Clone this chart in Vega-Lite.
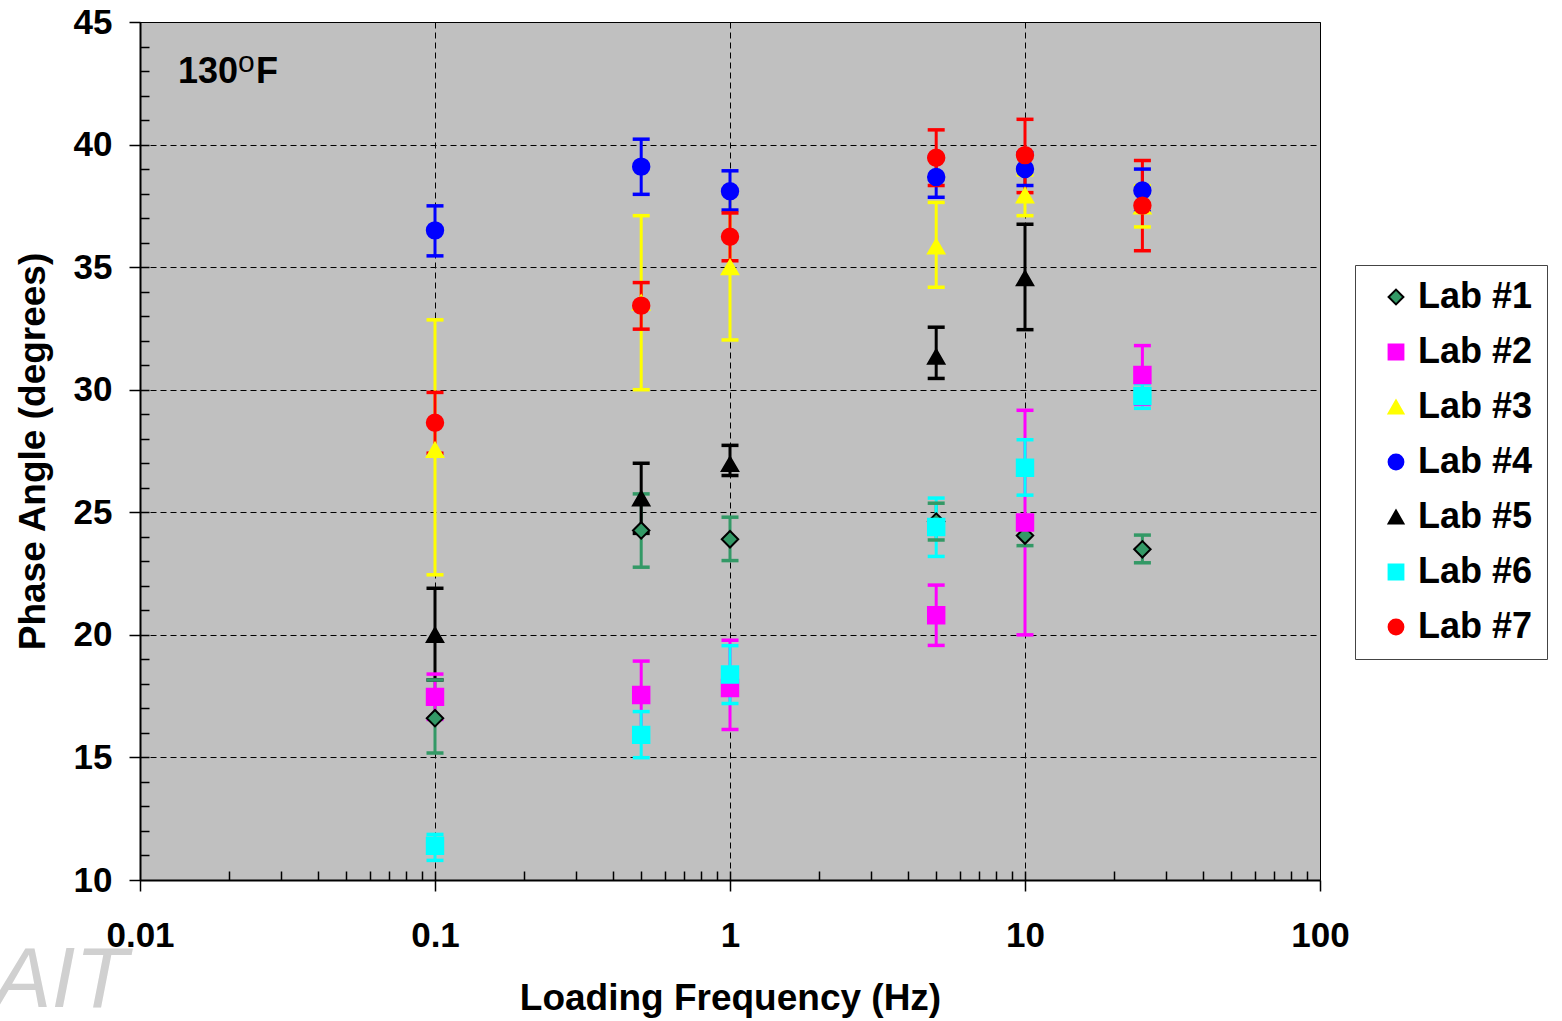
{
  "$schema": "https://vega.github.io/schema/vega-lite/v6.json",
  "width": 1180,
  "height": 858,
  "autosize": {"type": "none"},
  "padding": {"left": 140, "top": 22, "right": 242, "bottom": 141},
  "background": "white",
  "config": {
    "view": {"fill": "#c0c0c0", "stroke": "#000000", "strokeWidth": 1},
    "font": "Liberation Sans",
    "legend": {
      "orient": "none", "legendX": 1215, "legendY": 243, "padding": 14, "rowPadding": 19,
      "labelFont": "Liberation Sans", "labelFontSize": 36, "labelFontWeight": "bold", "labelColor": "#000000",
      "labelOffset": 4, "symbolOffset": 9, "symbolSize": 220, "symbolStrokeWidth": 2,
      "strokeColor": "#444444", "fillColor": "#ffffff", "labelLimit": 300
    }
  },
  "datasets": {
    "pts": [
      {"lab": "Lab #1", "f": 0.1, "v": 16.6, "lo": 15.18, "hi": 18.16},
      {"lab": "Lab #1", "f": 0.5, "v": 24.26, "lo": 22.76, "hi": 25.75},
      {"lab": "Lab #1", "f": 1, "v": 23.9, "lo": 23.03, "hi": 24.8},
      {"lab": "Lab #1", "f": 5, "v": 24.62, "lo": 23.87, "hi": 25.37},
      {"lab": "Lab #1", "f": 10, "v": 24.05, "lo": 23.64, "hi": 24.45},
      {"lab": "Lab #1", "f": 25, "v": 23.49, "lo": 22.94, "hi": 24.07},
      {"lab": "Lab #2", "f": 0.1, "v": 17.47, "lo": 16.55, "hi": 18.4},
      {"lab": "Lab #2", "f": 0.5, "v": 17.55, "lo": 16.2, "hi": 18.93},
      {"lab": "Lab #2", "f": 1, "v": 17.83, "lo": 16.14, "hi": 19.78},
      {"lab": "Lab #2", "f": 5, "v": 20.8, "lo": 19.57, "hi": 22.03},
      {"lab": "Lab #2", "f": 10, "v": 24.58, "lo": 20.0, "hi": 29.16},
      {"lab": "Lab #2", "f": 25, "v": 30.6, "lo": 29.4, "hi": 31.8},
      {"lab": "Lab #3", "f": 0.1, "v": 27.55, "lo": 22.45, "hi": 32.85},
      {"lab": "Lab #3", "f": 0.5, "v": 33.55, "lo": 30.0, "hi": 37.1},
      {"lab": "Lab #3", "f": 1, "v": 35.0, "lo": 32.03, "hi": 38.0},
      {"lab": "Lab #3", "f": 5, "v": 35.85, "lo": 34.18, "hi": 37.64},
      {"lab": "Lab #3", "f": 10, "v": 37.93, "lo": 37.1, "hi": 38.76},
      {"lab": "Lab #3", "f": 25, "v": 37.48, "lo": 36.64, "hi": 38.32},
      {"lab": "Lab #4", "f": 0.1, "v": 36.5, "lo": 35.46, "hi": 37.5},
      {"lab": "Lab #4", "f": 0.5, "v": 39.1, "lo": 37.97, "hi": 40.22},
      {"lab": "Lab #4", "f": 1, "v": 38.1, "lo": 37.33, "hi": 38.93},
      {"lab": "Lab #4", "f": 5, "v": 38.68, "lo": 37.85, "hi": 39.5},
      {"lab": "Lab #4", "f": 10, "v": 39.0, "lo": 38.33, "hi": 39.67},
      {"lab": "Lab #4", "f": 25, "v": 38.13, "lo": 37.26, "hi": 39.0},
      {"lab": "Lab #5", "f": 0.1, "v": 20.0, "lo": 18.16, "hi": 21.9},
      {"lab": "Lab #5", "f": 0.5, "v": 25.57, "lo": 24.14, "hi": 27.0},
      {"lab": "Lab #5", "f": 1, "v": 26.97, "lo": 26.5, "hi": 27.73},
      {"lab": "Lab #5", "f": 5, "v": 31.35, "lo": 30.46, "hi": 32.55},
      {"lab": "Lab #5", "f": 10, "v": 34.55, "lo": 32.45, "hi": 36.75},
      {"lab": "Lab #6", "f": 0.1, "v": 11.4, "lo": 10.8, "hi": 11.86},
      {"lab": "Lab #6", "f": 0.5, "v": 15.92, "lo": 14.99, "hi": 16.87},
      {"lab": "Lab #6", "f": 1, "v": 18.38, "lo": 17.2, "hi": 19.56},
      {"lab": "Lab #6", "f": 5, "v": 24.4, "lo": 23.2, "hi": 25.58},
      {"lab": "Lab #6", "f": 10, "v": 26.82, "lo": 25.7, "hi": 27.96},
      {"lab": "Lab #6", "f": 25, "v": 29.74, "lo": 29.24, "hi": 30.24},
      {"lab": "Lab #7", "f": 0.1, "v": 28.65, "lo": 27.41, "hi": 29.89},
      {"lab": "Lab #7", "f": 0.5, "v": 33.43, "lo": 32.47, "hi": 34.37},
      {"lab": "Lab #7", "f": 1, "v": 36.24, "lo": 35.26, "hi": 37.21},
      {"lab": "Lab #7", "f": 5, "v": 39.46, "lo": 38.33, "hi": 40.6},
      {"lab": "Lab #7", "f": 10, "v": 39.57, "lo": 38.04, "hi": 41.03},
      {"lab": "Lab #7", "f": 25, "v": 37.51, "lo": 35.67, "hi": 39.35}
    ]
  },
  "data": {"name": "pts"},
  "resolve": {"axis": {"x": "independent", "y": "independent"}},
  "layer": [
    {
      "mark": {"type": "rule", "strokeWidth": 3},
      "encoding": {
        "x": {
          "field": "f", "type": "quantitative",
          "scale": {"type": "log", "domain": [0.01, 100], "nice": false},
          "axis": {
            "orient": "bottom",
            "values": [0.01, 0.1, 1, 10, 100],
            "format": "~g",
            "tickSize": 11, "tickWidth": 1.5, "tickColor": "#000000",
            "domainColor": "#000000", "domainWidth": 2,
            "grid": true, "gridColor": "#000000", "gridDash": [6, 4], "gridWidth": 1, "gridOpacity": 1,
            "labelFont": "Liberation Sans", "labelFontSize": 35, "labelFontWeight": "bold", "labelColor": "#000000",
            "labelPadding": 27, "labelFlush": false,
            "title": "Loading Frequency (Hz)",
            "titleFont": "Liberation Sans", "titleFontSize": 37, "titleFontWeight": "bold", "titleColor": "#000000",
            "titlePadding": 27
          }
        },
        "y": {
          "field": "lo", "type": "quantitative",
          "scale": {"domain": [10, 45], "nice": false, "zero": false},
          "axis": {
            "orient": "left",
            "values": [10, 15, 20, 25, 30, 35, 40, 45],
            "tickSize": 11, "tickWidth": 1.5, "tickColor": "#000000",
            "domainColor": "#000000", "domainWidth": 2,
            "grid": true, "gridColor": "#000000", "gridDash": [6, 4], "gridWidth": 1, "gridOpacity": 1,
            "labelFont": "Liberation Sans", "labelFontSize": 35, "labelFontWeight": "bold", "labelColor": "#000000",
            "labelPadding": 17, "labelFlush": false,
            "title": "Phase Angle (degrees)",
            "titleFont": "Liberation Sans", "titleFontSize": 37, "titleFontWeight": "bold", "titleColor": "#000000",
            "titlePadding": 21
          }
        },
        "y2": {"field": "hi"},
        "color": {
          "field": "lab", "type": "nominal",
          "scale": {"domain": ["Lab #7", "Lab #6", "Lab #5", "Lab #4", "Lab #3", "Lab #2", "Lab #1"],
                    "range": ["#ff0000", "#00ffff", "#000000", "#0000ff", "#ffff00", "#ff00ff", "#339966"]},
          "legend": null
        }
      }
    },
    {
      "mark": {"type": "point", "opacity": 0},
      "encoding": {
        "x": {
          "field": "f", "type": "quantitative",
          "scale": {"type": "log", "domain": [0.01, 100], "nice": false},
          "axis": {
            "orient": "bottom", "offset": -9,
            "values": [0.02, 0.03, 0.04, 0.05, 0.06, 0.07, 0.08, 0.09, 0.1, 0.2, 0.3, 0.4, 0.5, 0.6, 0.7, 0.8, 0.9, 1, 2, 3, 4, 5, 6, 7, 8, 9, 10, 20, 30, 40, 50, 60, 70, 80, 90],
            "tickSize": 9, "tickWidth": 1.5, "tickColor": "#000000",
            "domain": false, "labels": false, "grid": false, "title": null
          }
        },
        "y": {
          "field": "v", "type": "quantitative",
          "scale": {"domain": [10, 45], "nice": false, "zero": false},
          "axis": {
            "orient": "left", "offset": -9,
            "values": [11, 12, 13, 14, 15, 16, 17, 18, 19, 20, 21, 22, 23, 24, 25, 26, 27, 28, 29, 30, 31, 32, 33, 34, 35, 36, 37, 38, 39, 40, 41, 42, 43, 44],
            "tickSize": 9, "tickWidth": 1.5, "tickColor": "#000000",
            "domain": false, "labels": false, "grid": false, "title": null
          }
        }
      }
    },
    {
      "mark": {"type": "tick", "orient": "horizontal", "size": 17, "thickness": 3.5, "opacity": 1},
      "encoding": {
        "x": {"field": "f", "type": "quantitative", "scale": {"type": "log"}, "axis": null},
        "y": {"field": "lo", "type": "quantitative", "axis": null},
        "color": {"field": "lab", "type": "nominal", "legend": null}
      }
    },
    {
      "mark": {"type": "tick", "orient": "horizontal", "size": 17, "thickness": 3.5, "opacity": 1},
      "encoding": {
        "x": {"field": "f", "type": "quantitative", "scale": {"type": "log"}, "axis": null},
        "y": {"field": "hi", "type": "quantitative", "axis": null},
        "color": {"field": "lab", "type": "nominal", "legend": null}
      }
    },
    {
      "mark": {"type": "point", "opacity": 1, "strokeWidth": 2, "size": 270},
      "encoding": {
        "x": {"field": "f", "type": "quantitative", "scale": {"type": "log"}, "axis": null},
        "y": {"field": "v", "type": "quantitative", "axis": null},
        "fill": {
          "field": "lab", "type": "nominal",
          "scale": {"domain": ["Lab #1", "Lab #2", "Lab #3", "Lab #4", "Lab #5", "Lab #6", "Lab #7"],
                    "range": ["#339966", "#ff00ff", "#ffff00", "#0000ff", "#000000", "#00ffff", "#ff0000"]},
          "legend": {"title": null}
        },
        "stroke": {
          "field": "lab", "type": "nominal",
          "scale": {"domain": ["Lab #1", "Lab #2", "Lab #3", "Lab #4", "Lab #5", "Lab #6", "Lab #7"],
                    "range": ["#000000", "#ff00ff", "#ffff00", "#0000ff", "#000000", "#00ffff", "#ff0000"]},
          "legend": {"title": null}
        },
        "shape": {
          "field": "lab", "type": "nominal",
          "scale": {"domain": ["Lab #1", "Lab #2", "Lab #3", "Lab #4", "Lab #5", "Lab #6", "Lab #7"],
                    "range": ["diamond", "square", "triangle-up", "circle", "triangle-up", "square", "circle"]},
          "legend": {"title": null}
        }
      }
    },
    {
      "data": {"values": [{"t": "130"}]},
      "mark": {"type": "text", "align": "left", "baseline": "alphabetic", "font": "Liberation Sans", "fontSize": 36, "fontWeight": "bold", "color": "#000000"},
      "encoding": {
        "x": {"datum": 0.01345, "type": "quantitative", "scale": {"type": "log"}, "axis": null},
        "y": {"datum": 42.51, "type": "quantitative", "axis": null},
        "text": {"field": "t"}
      }
    },
    {
      "data": {"values": [{"t": "o"}]},
      "mark": {"type": "text", "align": "left", "baseline": "alphabetic", "dx": 60, "dy": -11, "font": "Liberation Sans", "fontSize": 30, "color": "#000000"},
      "encoding": {
        "x": {"datum": 0.01345, "type": "quantitative", "scale": {"type": "log"}, "axis": null},
        "y": {"datum": 42.51, "type": "quantitative", "axis": null},
        "text": {"field": "t"}
      }
    },
    {
      "data": {"values": [{"t": "F"}]},
      "mark": {"type": "text", "align": "left", "baseline": "alphabetic", "dx": 78, "font": "Liberation Sans", "fontSize": 36, "fontWeight": "bold", "color": "#000000"},
      "encoding": {
        "x": {"datum": 0.01345, "type": "quantitative", "scale": {"type": "log"}, "axis": null},
        "y": {"datum": 42.51, "type": "quantitative", "axis": null},
        "text": {"field": "t"}
      }
    },
    {
      "data": {"values": [{"t": "AIT"}]},
      "mark": {"type": "text", "align": "left", "baseline": "alphabetic", "font": "Liberation Sans", "fontSize": 86, "fontStyle": "italic", "color": "#d0d0d0"},
      "encoding": {
        "x": {"datum": 0.0032, "type": "quantitative", "scale": {"type": "log"}, "axis": null},
        "y": {"datum": 4.82, "type": "quantitative", "axis": null},
        "text": {"field": "t"}
      }
    }
  ]
}
